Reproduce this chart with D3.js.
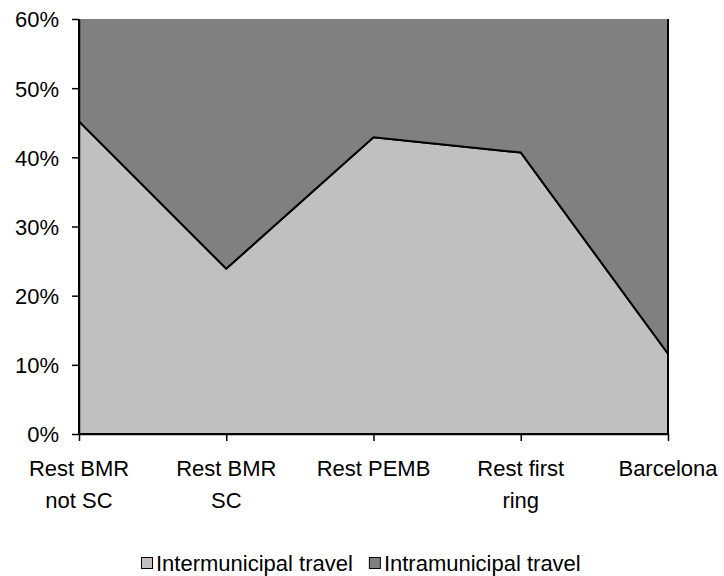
<!DOCTYPE html>
<html>
<head>
<meta charset="utf-8">
<script src="https://cdn.jsdelivr.net/npm/d3@7"></script>
<style>
  body { margin: 0; background: #fff; }
  text { font-family: "Liberation Sans", Arial, sans-serif; fill: #000; }
</style>
</head>
<body>
<div id="chart"></div>
<script>
const WIDTH = 724;
const HEIGHT = 576;
const LEFT = 79;
const RIGHT = 668;
const TOP = 19;
const BOTTOM = 434;
const FONT = 22;

// data (percent)
const categories = [['Rest BMR', 'not SC'], ['Rest BMR', 'SC'], ['Rest PEMB'], ['Rest first', 'ring'], ['Barcelona']];
const intermunicipal = [45.2, 23.9, 42.9, 40.7, 11.6];
const intramunicipal = [54.8, 76.1, 57.1, 59.3, 88.4];
const seriesNames = ['Intermunicipal travel', 'Intramunicipal travel'];
const seriesColors = ['#c0c0c0', '#808080'];
const yTicks = [0, 10, 20, 30, 40, 50, 60];

const svg = d3.select('#chart').append('svg')
  .attr('width', WIDTH)
  .attr('height', HEIGHT);

const rows = categories.map((c, i) => ({
  key: c.join(' '),
  inter: intermunicipal[i],
  intra: intramunicipal[i],
}));

const stacked = d3.stack().keys(['inter', 'intra'])(rows);

const xScale = d3.scalePoint()
  .domain(rows.map((d) => d.key))
  .range([LEFT, RIGHT]);

const yScale = d3.scaleLinear()
  .domain([0, 60])
  .range([BOTTOM, TOP]);

svg.append('clipPath')
  .attr('id', 'plotClip')
  .append('rect')
  .attr('x', LEFT - 2)
  .attr('y', TOP)
  .attr('width', RIGHT - LEFT + 4)
  .attr('height', BOTTOM - TOP + 2);

const area = d3.area()
  .x((d) => xScale(d.data.key))
  .y0((d) => yScale(d[0]))
  .y1((d) => yScale(d[1]));

svg.append('g')
  .attr('clip-path', 'url(#plotClip)')
  .selectAll('path')
  .data(stacked)
  .enter()
  .append('path')
  .attr('d', (s) => area(s) + 'Z')
  .attr('fill', (s, i) => seriesColors[i])
  .attr('stroke', '#000')
  .attr('stroke-width', 2)
  .attr('stroke-linejoin', 'miter');

// y axis
const yAxis = d3.axisLeft(yScale)
  .tickValues(yTicks)
  .tickSize(7)
  .tickPadding(13)
  .tickSizeOuter(0)
  .tickFormat((d) => d + '%');

const yG = svg.append('g')
  .attr('transform', `translate(${LEFT}, 0)`)
  .call(yAxis);

// x axis
const xAxis = d3.axisBottom(xScale)
  .tickSize(7)
  .tickSizeOuter(0)
  .tickFormat('');

const xG = svg.append('g')
  .attr('transform', `translate(0, ${BOTTOM})`)
  .call(xAxis);

[yG, xG].forEach((g) => {
  g.select('.domain').attr('stroke', '#000').attr('stroke-width', 1.5);
  g.selectAll('.tick line').attr('stroke', '#000').attr('stroke-width', 1.5);
});
yG.selectAll('.tick text')
  .style('font-size', FONT + 'px')
  .attr('font-family', null)
  .attr('dy', '0.36em');

// multi-line category labels
const labels = svg.append('g').attr('class', 'xLabels');
rows.forEach((d, i) => {
  const t = labels.append('text')
    .attr('x', xScale(d.key))
    .attr('y', 476)
    .attr('text-anchor', 'middle')
    .style('font-size', FONT + 'px');
  categories[i].forEach((line, j) => {
    t.append('tspan')
      .attr('x', xScale(d.key))
      .attr('dy', j === 0 ? 0 : 32)
      .text(line);
  });
});

// legend
const legend = svg.append('g').attr('class', 'legend');
let lx = 141;
seriesNames.forEach((name, i) => {
  legend.append('rect')
    .attr('x', lx + 0.5)
    .attr('y', 557.5)
    .attr('width', 11)
    .attr('height', 11)
    .attr('fill', seriesColors[i])
    .attr('stroke', '#000')
    .attr('stroke-width', 1);
  const t = legend.append('text')
    .attr('x', lx + 15)
    .attr('y', 571)
    .style('font-size', FONT + 'px')
    .text(name);
  lx += 15 + t.node().getComputedTextLength() + 16;
});
</script>
</body>
</html>
